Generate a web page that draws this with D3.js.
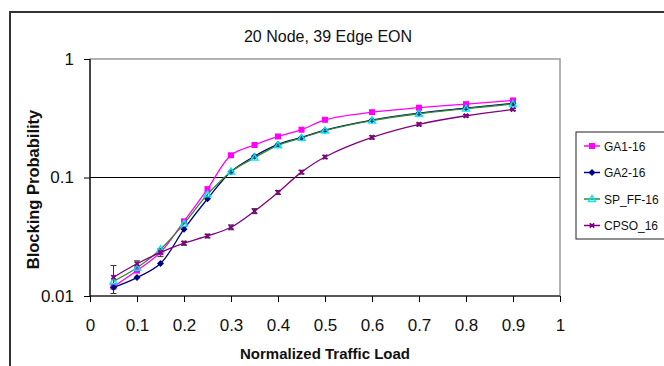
<!DOCTYPE html>
<html>
<head>
<meta charset="utf-8">
<script src="https://cdn.jsdelivr.net/npm/d3@7"></script>
<style>
  html, body { margin: 0; padding: 0; background: #fff; }
  svg { display: block; font-family: "Liberation Sans", Arial, sans-serif; }
</style>
</head>
<body>
<svg id="chart" width="664" height="366"></svg>
<script>
// Traffic load points shared by every series
const loads = [0.05, 0.1, 0.15, 0.2, 0.25, 0.3, 0.35, 0.4, 0.45, 0.5, 0.6, 0.7, 0.8, 0.9];

// Blocking probability per algorithm
const ga1 = [0.0120, 0.0164, 0.0234, 0.0427, 0.0798, 0.154, 0.188, 0.222, 0.253, 0.307, 0.356, 0.388, 0.416, 0.447];
const ga2 = [0.0118, 0.0143, 0.0188, 0.0366, 0.0662, 0.112, 0.151, 0.190, 0.218, 0.251, 0.305, 0.349, 0.385, 0.422];
const spff = [0.0133, 0.0173, 0.0248, 0.0408, 0.0720, 0.112, 0.147, 0.187, 0.216, 0.249, 0.302, 0.345, 0.381, 0.417];
const cpso = [0.0144, 0.0187, 0.0233, 0.0279, 0.0321, 0.0380, 0.0520, 0.0748, 0.111, 0.149, 0.218, 0.281, 0.332, 0.375];

// Error bar limits for CPSO_16
const cpsoLow = [0.0105, 0.0176, 0.0215, 0.0268, 0.0309, 0.0362, 0.0495, 0.0720, 0.107, 0.144, 0.211, 0.273, 0.324, 0.367];
const cpsoHigh = [0.0181, 0.0198, 0.0252, 0.0290, 0.0333, 0.0398, 0.0546, 0.0777, 0.115, 0.154, 0.225, 0.289, 0.340, 0.383];

const xTicks = [0, 0.1, 0.2, 0.3, 0.4, 0.5, 0.6, 0.7, 0.8, 0.9, 1];
const yTicks = [0.01, 0.1, 1];
const seriesNames = ["GA1-16", "GA2-16", "SP_FF-16", "CPSO_16"];

const series = [
  { name: seriesNames[0], values: ga1, line: "#ff00ff", fill: "#ff00ff", marker: "square" },
  { name: seriesNames[1], values: ga2, line: "#000080", fill: "#000080", marker: "diamond" },
  { name: seriesNames[2], values: spff, line: "#2e8b2e", fill: "#00e5ff", marker: "triangle" },
  { name: seriesNames[3], values: cpso, line: "#800080", fill: "#800080", marker: "cross" }
];

const svg = d3.select("#chart");
const plot = { left: 90, right: 560, top: 59, bottom: 296 };

const x = d3.scaleLinear().domain([0, 1]).range([plot.left, plot.right]);
const y = d3.scaleLog().domain([0.01, 1]).range([plot.bottom, plot.top]);

// Chart area frame
svg.append("path")
  .attr("d", `M10,366 L10,12 L664,12`)
  .attr("fill", "none").attr("stroke", "#333").attr("stroke-width", 2);

// Plot area frame
svg.append("rect")
  .attr("x", plot.left).attr("y", plot.top)
  .attr("width", plot.right - plot.left).attr("height", plot.bottom - plot.top)
  .attr("fill", "none").attr("stroke", "#9a9a9a").attr("stroke-width", 1.5);

// Major gridline at 0.1
svg.append("line")
  .attr("x1", plot.left).attr("x2", plot.right)
  .attr("y1", y(0.1)).attr("y2", y(0.1))
  .attr("stroke", "#000").attr("stroke-width", 1.2);

// Axes
const xAxis = d3.axisBottom(x).tickValues(xTicks).tickFormat(d3.format("")).tickSize(6).tickPadding(17);
const gx = svg.append("g").attr("transform", `translate(0,${plot.bottom})`).call(xAxis);
gx.select(".domain").attr("stroke", "#000").attr("stroke-width", 1.2).attr("d", `M${plot.left},0H${plot.right}`);
gx.selectAll(".tick line").attr("stroke", "#000");
gx.selectAll("text").attr("font-size", 17).attr("fill", "#111")
  .attr("font-family", "'Liberation Sans', Arial, sans-serif");

const yAxis = d3.axisLeft(y).tickValues(yTicks).tickFormat(d => String(d)).tickSize(6).tickPadding(10);
const gy = svg.append("g").attr("transform", `translate(${plot.left},0)`).call(yAxis);
gy.select(".domain").attr("stroke", "#000").attr("stroke-width", 1.2).attr("d", `M0,${plot.top}V${plot.bottom}`);
gy.selectAll(".tick line").attr("stroke", "#000");
gy.selectAll("text").attr("font-size", 17).attr("fill", "#111")
  .attr("font-family", "'Liberation Sans', Arial, sans-serif");

// Titles
svg.append("text").attr("x", 328).attr("y", 42).attr("text-anchor", "middle")
  .attr("font-size", 16).attr("fill", "#111").text("20 Node, 39 Edge EON");
svg.append("text").attr("x", 325).attr("y", 359).attr("text-anchor", "middle")
  .attr("font-size", 15).attr("font-weight", "bold").attr("fill", "#111").text("Normalized Traffic Load");
svg.append("text").attr("transform", `translate(39,${y(0.1) + 12}) rotate(-90)`).attr("text-anchor", "middle")
  .attr("font-size", 16.5).attr("font-weight", "bold").attr("fill", "#111").text("Blocking Probability");

// Error bars for CPSO_16
const eb = svg.append("g").attr("stroke", "#333").attr("stroke-width", 1);
loads.forEach((l, i) => {
  const cx = x(l);
  eb.append("line").attr("x1", cx).attr("x2", cx).attr("y1", y(cpsoLow[i])).attr("y2", y(cpsoHigh[i]));
  eb.append("line").attr("x1", cx - 3).attr("x2", cx + 3).attr("y1", y(cpsoLow[i])).attr("y2", y(cpsoLow[i]));
  eb.append("line").attr("x1", cx - 3).attr("x2", cx + 3).attr("y1", y(cpsoHigh[i])).attr("y2", y(cpsoHigh[i]));
});

const lineGen = d3.line().x(d => x(d[0])).y(d => y(d[1])).curve(d3.curveCatmullRom.alpha(0.5));

function drawMarker(g, type, cx, cy, s) {
  if (type === "square") {
    g.append("rect").attr("x", cx - 3).attr("y", cy - 3).attr("width", 6).attr("height", 6)
      .attr("fill", s.fill);
  } else if (type === "diamond") {
    g.append("path").attr("d", `M${cx},${cy - 3.5}L${cx + 3.5},${cy}L${cx},${cy + 3.5}L${cx - 3.5},${cy}Z`)
      .attr("fill", s.fill);
  } else if (type === "triangle") {
    g.append("path").attr("d", `M${cx},${cy - 3.5}L${cx + 3.5},${cy + 2.5}L${cx - 3.5},${cy + 2.5}Z`)
      .attr("fill", "none").attr("stroke", s.fill).attr("stroke-width", 1.4);
  } else {
    g.append("path").attr("d", `M${cx - 2.2},${cy - 2.2}L${cx + 2.2},${cy + 2.2}M${cx + 2.2},${cy - 2.2}L${cx - 2.2},${cy + 2.2}`)
      .attr("stroke", s.fill).attr("stroke-width", 1.8);
  }
}

// Series lines and markers
series.forEach(s => {
  const pts = loads.map((l, i) => [l, s.values[i]]);
  svg.append("path").datum(pts).attr("d", lineGen)
    .attr("fill", "none").attr("stroke", s.line).attr("stroke-width", 1.3);
  const g = svg.append("g");
  pts.forEach(p => drawMarker(g, s.marker, x(p[0]), y(p[1]), s));
});

// Legend
const leg = svg.append("g");
leg.append("rect").attr("x", 576).attr("y", 132).attr("width", 100).attr("height", 107)
  .attr("fill", "#fff").attr("stroke", "#222").attr("stroke-width", 1);
series.forEach((s, i) => {
  const ly = 146 + i * 26.5;
  leg.append("line").attr("x1", 584).attr("x2", 600).attr("y1", ly).attr("y2", ly)
    .attr("stroke", s.line).attr("stroke-width", 1.5);
  drawMarker(leg, s.marker, 592, ly, s);
  leg.append("text").attr("x", 604).attr("y", ly + 4.5).attr("font-size", 12).attr("fill", "#111").text(s.name);
});
</script>
</body>
</html>
